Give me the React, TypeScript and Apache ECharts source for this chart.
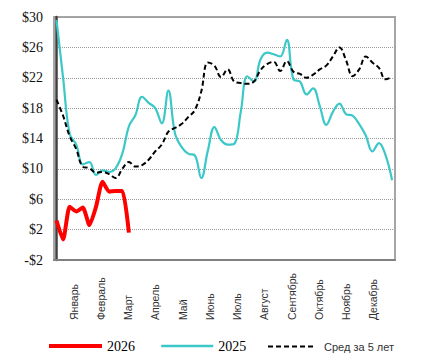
import React, { useEffect, useRef } from "react";
import * as echarts from "echarts";

const months = ["Январь", "Февраль", "Март", "Апрель", "Май", "Июнь", "Июль", "Август", "Сентябрь", "Октябрь", "Ноябрь", "Декабрь"];
const yTicks = [-2, 2, 6, 10, 14, 18, 22, 26, 30];
const seriesNames = ["2026", "2025", "Сред за 5 лет"];

// weekly values ($)
const values2026 = [3.2, 0.7, 5.0, 4.4, 4.9, 2.6, 5.0, 8.3, 7.0, 7.1, 7.1, 1.6];
const values2025 = [
  29.6, 22.0, 14.6, 13.2, 10.6, 10.9, 9.2, 9.8, 9.6, 10.1,
  12.0, 15.6, 17.1, 19.5, 18.7, 18.0, 16.0, 20.3, 14.7, 12.9,
  12.0, 11.8, 8.8, 12.4, 15.5, 13.8, 13.2, 13.3, 17.5, 22.2,
  21.5, 24.4, 25.3, 25.1, 24.8, 27.0, 21.8, 21.5, 19.8, 20.6,
  18.3, 15.8, 17.5, 18.6, 17.2, 17.0, 15.9, 14.4, 12.3, 13.4,
  11.8, 8.5,
];
const avg5Years = [
  19.1, 17.0, 14.3, 12.6, 10.3, 10.1, 9.5, 9.6, 9.3, 8.8,
  10.0, 10.9, 10.3, 10.5, 11.2, 12.3, 13.2, 14.9, 15.4, 15.9,
  16.8, 17.7, 20.2, 24.0, 23.6, 22.1, 23.1, 21.5, 21.3, 21.2,
  21.5, 23.0, 23.8, 24.1, 22.9, 24.2, 22.8, 22.5, 22.0, 22.4,
  23.1, 23.6, 24.8, 26.0, 24.3, 22.2, 23.1, 24.8, 24.0, 23.3,
  21.8, 22.1,
];

const toPairs = (arr: number[]) => arr.map((v, i) => [i, v]);
const fmtMoney = (v: number) => (v < 0 ? "-$" + -v : "$" + v);

export default function App() {
  const ref = useRef<HTMLDivElement>(null);
  useEffect(() => {
    if (!ref.current) return;
    const chart = echarts.init(ref.current, null, { renderer: "svg" });
    const serif = "'Liberation Serif', 'Times New Roman', serif";
    const sans = "'Liberation Sans', Arial, sans-serif";
    const hiddenSymbol = { color: "transparent", borderWidth: 0, opacity: 0 };
    chart.setOption({
      animation: false,
      backgroundColor: "#ffffff",
      grid: [
        {
          left: 54, top: 17, width: 341, height: 243,
          show: true, borderColor: "#a6a6a6", borderWidth: 2,
          containLabel: false, outerBoundsMode: "none",
        },
        {
          left: 60, top: 17, width: 327, height: 243,
          show: false, containLabel: false, outerBoundsMode: "none",
        },
      ],
      xAxis: [
        {
          type: "value", gridIndex: 0, min: -0.38, max: 51.44,
          axisLine: { show: true, onZero: false, lineStyle: { color: "#808080", width: 2 } },
          axisTick: { show: false }, axisLabel: { show: false }, splitLine: { show: false },
        },
        {
          type: "category", gridIndex: 1, data: months, boundaryGap: true,
          axisLine: { show: false }, axisTick: { show: false }, splitLine: { show: false },
          axisLabel: {
            interval: 0, rotate: 90, align: "left", margin: 60,
            fontFamily: sans, fontSize: 10.5, color: "#333333",
          },
        },
      ],
      yAxis: [
        {
          type: "value", gridIndex: 0, min: -2, max: 30, interval: 4,
          axisLine: { show: true, lineStyle: { color: "#404040", width: 2.5 } },
          axisTick: { show: false, customValues: yTicks },
          axisLabel: {
            customValues: yTicks, formatter: fmtMoney, margin: 11,
            fontFamily: serif, fontSize: 14, color: "#111111",
          },
          splitLine: { show: true, lineStyle: { color: "#9a9a9a", type: "dotted", width: 1 } },
        },
        { type: "value", gridIndex: 1, show: false, min: 0, max: 1 },
      ],
      legend: [
        {
          data: [{ name: seriesNames[0] }], left: 42, top: 334, itemWidth: 53, itemHeight: 14,
          lineStyle: { width: 4 }, itemStyle: hiddenSymbol,
          textStyle: { fontFamily: serif, fontSize: 14, color: "#000" },
        },
        {
          data: [{ name: seriesNames[1] }], left: 155, top: 334, itemWidth: 52, itemHeight: 14,
          lineStyle: { width: 2.5 }, itemStyle: hiddenSymbol,
          textStyle: { fontFamily: serif, fontSize: 14, color: "#000" },
        },
        {
          data: [{ name: seriesNames[2] }], left: 262, top: 336, itemWidth: 48, itemHeight: 14,
          lineStyle: { width: 2 }, itemStyle: hiddenSymbol,
          textStyle: { fontFamily: sans, fontSize: 11, color: "#333", padding: [2, 0, 0, 3] },
        },
      ],
      series: [
        {
          name: seriesNames[1], type: "line", xAxisIndex: 0, yAxisIndex: 0,
          data: toPairs(values2025), symbol: "none", smooth: 0.4,
          lineStyle: { color: "#3cc8c8", width: 2.2 }, itemStyle: { color: "#3cc8c8" },
        },
        {
          name: seriesNames[2], type: "line", xAxisIndex: 0, yAxisIndex: 0,
          data: toPairs(avg5Years), symbol: "none", smooth: 0.4,
          lineStyle: { color: "#000000", width: 2, type: [5, 3] }, itemStyle: { color: "#000000" },
        },
        {
          name: seriesNames[0], type: "line", xAxisIndex: 0, yAxisIndex: 0,
          data: toPairs(values2026), symbol: "none", smooth: 0.2,
          lineStyle: { color: "#ff0000", width: 4 }, itemStyle: { color: "#ff0000" },
        },
      ],
    });
    return () => chart.dispose();
  }, []);
  return (
    <div
      ref={ref}
      style={{ position: "fixed", left: 0, top: 0, width: 425, height: 363, background: "#fff" }}
    />
  );
}
